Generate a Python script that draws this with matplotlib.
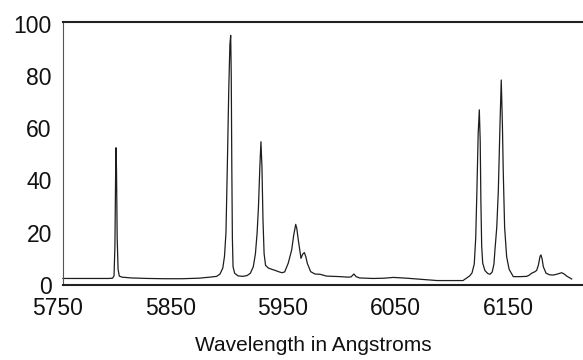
import matplotlib
matplotlib.use("Agg")
import matplotlib.pyplot as plt

plt.rcParams['font.family'] = ['Liberation Sans', 'DejaVu Sans']

# Spectrum
wavelength = [
    5754.4, 5770, 5785, 5795, 5798.5, 5799.8, 5800.6, 5801.2, 5801.6, 5802.0,
    5802.6, 5803.4, 5804.5, 5807, 5815, 5830, 5845, 5860, 5875, 5885,
    5891, 5894, 5896.5, 5898, 5899.3, 5900.5, 5901.8, 5902.8, 5903.5, 5904.0,
    5904.5, 5905.0, 5905.6, 5907, 5910, 5914, 5918, 5921, 5923.6, 5925.5,
    5927, 5928.2, 5929.4, 5930.4, 5931.3, 5932.2, 5933.2, 5934.5, 5937, 5940,
    5943, 5946, 5949, 5951.5, 5954.7, 5957.7, 5959.5, 5961.3, 5962.3, 5963.6,
    5966, 5967.5, 5969, 5970.3, 5971.6, 5974.6, 5978.4, 5982.9, 5988.8, 6000.7,
    6007.8, 6010.5, 6013, 6015, 6018, 6030, 6040, 6048, 6060, 6075,
    6087, 6100, 6110, 6113, 6116, 6118, 6120, 6121.3, 6122.3, 6123.5,
    6124.5, 6125.3, 6125.9, 6126.6, 6127.5, 6129.5, 6132, 6134, 6136, 6137.5,
    6138.4, 6140, 6141.4, 6142.8, 6144, 6145, 6145.8, 6147, 6148.8, 6151,
    6154.7, 6160.7, 6166.6, 6169, 6171, 6174, 6175.5, 6177, 6178.5, 6179.3,
    6180.3, 6181.4, 6183.8, 6187, 6190.3, 6194, 6197.7, 6200, 6202.2, 6204.5,
    6206.6,
]
intensity = [
    2.5, 2.5, 2.5, 2.5, 2.6, 3.5, 15, 42, 52.5, 44,
    18, 6, 3.4, 3.0, 2.7, 2.5, 2.4, 2.4, 2.6, 3.0,
    3.3, 4.2, 6.5, 11, 20, 45, 75, 92, 95.5, 80,
    45, 18, 7, 4.5, 3.5, 3.3, 3.6, 4.5, 7, 12,
    20, 30, 45, 54.8, 45, 25, 12, 7.5, 6.5, 6.0,
    5.6, 5.1, 4.7, 5.0, 8.4, 13.4, 19, 23.2, 21.5, 17.2,
    10.2, 11.8, 12.4, 10.8, 8.3, 5.1, 4.2, 4.1, 3.4, 3.2,
    3.0, 3.1, 4.2, 3.2, 2.7, 2.5, 2.6, 2.9, 2.6, 2.1,
    1.7, 1.7, 1.7, 2.6, 3.5, 4.6, 8, 18, 35, 58,
    67, 55, 32, 15, 8.4, 5.5, 4.4, 4.1, 5.0, 8,
    13.4, 22, 36, 60, 78.4, 62, 43, 22, 10.8, 6,
    3.2, 3.2, 3.3, 3.8, 4.5, 5.1, 5.6, 7.6, 11, 11.5,
    10, 7, 4.5, 3.9, 3.8, 4.2, 4.7, 4.2, 3.4, 2.8,
    2.3,
]
x_ticks = [5750, 5850, 5950, 6050, 6150]
y_ticks = [0, 20, 40, 60, 80, 100]
x_label = "Wavelength in Angstroms"

W, H = 583, 360
fig = plt.figure(figsize=(W / 100, H / 100), dpi=100)
ax = fig.add_axes([58 / W, 1 - 285 / H, 525 / W, 263 / H])

ax.plot(wavelength, intensity, color='#1e1e1e', lw=0.9)

xmax = 5750 + 525 / 1.125
ax.set_xlim(5750, xmax)
ax.set_ylim(0, 100.6)
ax.set_xticks(x_ticks)
ax.set_yticks(y_ticks)
ax.tick_params(length=0, labelsize=16.5, colors='#111111')
ax.tick_params(axis='y', pad=8)
ax.tick_params(axis='x', pad=8.5)

ax.spines['left'].set_position(('data', 5754.4))
ax.spines['left'].set_color('#555555')
ax.spines['left'].set_linewidth(0.8)
ax.spines['right'].set_visible(False)
for s in ('top', 'bottom'):
    ax.spines[s].set_color('#222222')
    ax.spines[s].set_linewidth(1.5)
    ax.spines[s].set_bounds(5754.4, xmax)

ax.set_xlabel(x_label, fontsize=15, color='#111111')
ax.xaxis.set_label_coords((313.5 - 58) / 525, (285 - 336) / 263)

fig.savefig("out.png", dpi=100)
